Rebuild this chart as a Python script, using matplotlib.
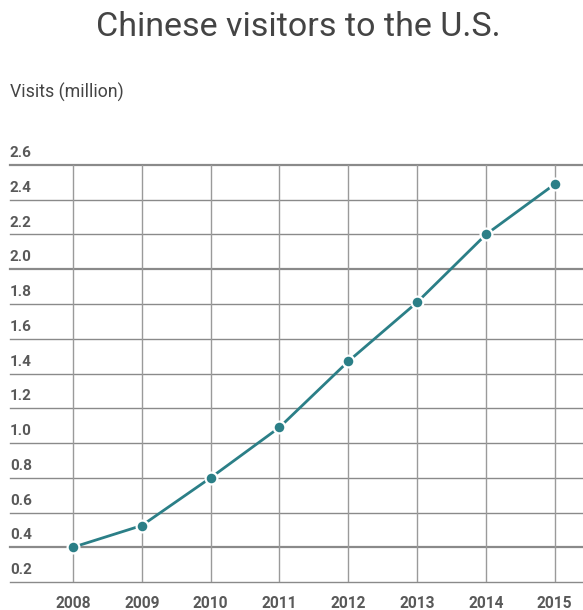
import matplotlib.pyplot as plt
import matplotlib.transforms as mtransforms

years = [2008, 2009, 2010, 2011, 2012, 2013, 2014, 2015]
visits = [0.40, 0.525, 0.80, 1.09, 1.47, 1.81, 2.20, 2.49]
y_ticks = [0.2, 0.4, 0.6, 0.8, 1.0, 1.2, 1.4, 1.6, 1.8, 2.0, 2.2, 2.4, 2.6]

plt.rcParams['font.family'] = ['Roboto', 'DejaVu Sans']

W, H = 583, 610
fig = plt.figure(figsize=(W / 100, H / 100), dpi=100)
# axes from x=10..583 px, y=165..582 px
ax = fig.add_axes([10 / W, 1 - 582 / H, 573 / W, (582 - 165) / H])

ax.set_xlim(2007.085, 2015.41)
ax.set_ylim(0.2, 2.6)

# horizontal grid, a few lines a touch heavier
for v in y_ticks:
    heavy = round(v, 1) in (2.6, 2.0, 0.4)
    ax.axhline(v, color='#8a8a8a', lw=1.6 if heavy else 1.0, zorder=1, clip_on=False)
for yr in years:
    ax.axvline(yr, color='#9a9a9a', lw=1.0, zorder=1)

ax.plot(years, visits, color='#2b7f87', lw=2.0, zorder=3,
        marker='o', markersize=8.5, markerfacecolor='#2b7f87',
        markeredgecolor='white', markeredgewidth=1.6, clip_on=False)

for s in ax.spines.values():
    s.set_visible(False)
ax.set_xticks([])
ax.set_yticks([])

# y labels sit just above their gridline at the left edge
trans_y = mtransforms.blended_transform_factory(ax.transAxes, ax.transData)
off = mtransforms.offset_copy(trans_y, fig=fig, x=0, y=3.5, units='points')
for v in y_ticks:
    ax.text(0.0, v, f'{v:.1f}', transform=off, ha='left', va='bottom',
            fontsize=11, fontweight='bold', color='#595959')

# year labels under the chart
trans_x = mtransforms.blended_transform_factory(ax.transData, fig.transFigure)
for yr in years:
    ax.text(yr, 1 - 603 / H, str(yr), transform=trans_x, ha='center', va='center',
            fontsize=11.2, fontweight='bold', color='#595959')

fig.text(298 / W, 1 - 27 / H, 'Chinese visitors to the U.S.', ha='center', va='center',
         fontsize=24.5, color='#444444')
fig.text(10 / W, 1 - 92 / H, 'Visits (million)', ha='left', va='center',
         fontsize=12.8, color='#444444')

fig.savefig('out.png', dpi=100)
